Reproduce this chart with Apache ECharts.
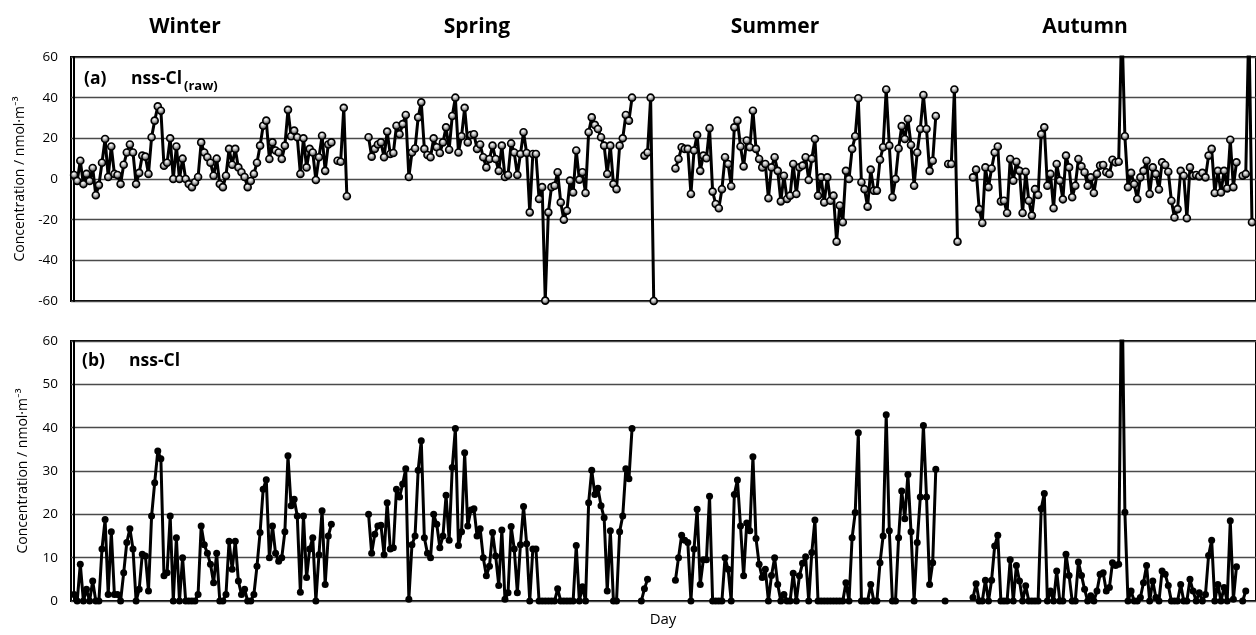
<!DOCTYPE html>
<html><head><meta charset="utf-8">
<script src="https://cdn.jsdelivr.net/npm/echarts@6/dist/echarts.min.js"></script>
<style>html,body{margin:0;padding:0;background:#fff}#c{width:1256px;height:635px}</style>
</head><body><div id="c"></div>
<script>
// ---- labels ----
const seasons = ['Winter', 'Spring', 'Summer', 'Autumn'];
const yName = 'Concentration / nmol\u00b7m\u207b\u00b3';
const xName = 'Day';

// ---- (a) nss-Cl(raw): segments (start day + values) ----
const rawWinterStart = 0;
const rawWinter = [2, -1, 9, -2.5, 2.5, -1, 5.4, -8, -3, 8,
  19.7, 1, 16, 2.5, 2, -2.5, 7, 13, 17, 13,
  -2.5, 3, 11.5, 11, 2.5, 20.5, 28.7, 35.7, 33.6, 6.5,
  8, 20, 0, 16, 0, 10, 0, -2.5, -4, -1.6,
  1, 18, 13, 10.7, 8, 1.6, 10, -2.5, -4, 1.6,
  14.8, 7, 14.8, 5.7, 3.3, 1, -4, -1, 2.5, 8,
  16.4, 26.2, 28.7, 9.8, 18, 14, 13, 9.8, 16.4, 34,
  21, 23.8, 20.5, 2.5, 20, 5.7, 14.8, 13, -0.5, 10.7,
  21.3, 4, 17, 18];
const rawWinterEndStart = 85;
const rawWinterEnd = [9, 8.5, 35, -8.5];
const rawSpringStart = 95;
const rawSpring = [20.5, 11, 14.8, 17, 18, 10.7, 23.3, 12.3, 12.8, 26.2,
  22, 27, 31.5, 1, 13, 15, 30.3, 37.7, 14.8, 11.8,
  10.7, 20, 15.6, 12.8, 18, 25.4, 14.4, 31, 40, 13,
  21, 35, 18, 21.6, 22, 14.8, 17, 10.7, 5.7, 9.8,
  16.4, 9.8, 4, 16.4, 1, 2, 17.5, 13, 2, 12.3,
  23, 12.8, -16.4, 12.3, 12.3, -9.8, -4, -59.8, -16.4, -4,
  -3.3, 3.3, -11.5, -20, -15.6, -0.8, -6.6, 14, -0.3, 3.3,
  -6.9, 23, 30.3, 26.6, 24.6, 20.5, 16.4, 2.5, 16.4, -2.5,
  -5, 16.4, 20, 31.5, 28.7, 40];
const rawSpringEndStart = 184;
const rawSpringEnd = [11.5, 13, 40, -60];
const rawSummerStart = 194;
const rawSummer = [5.2, 9.8, 15.6, 14.8, 14.8, -7.4, 14, 21.6, 4, 11.5,
  10.2, 25, -6.2, -12.3, -14.4, -5, 10.7, 7.4, -3.6, 25.4,
  28.7, 16, 6.2, 18.9, 15.6, 33.6, 14.8, 9.8, 5.7, 7.4,
  -9.5, 5.7, 10.7, 4, -11, 1.6, -9.8, -8.2, 7.4, -7.4,
  5.7, 6.6, 10.7, -0.5, 10, 19.7, -8.2, 0.8, -11.5, 0.8,
  -10.7, -8.2, -30.8, -13, -21.3, 4, 0, 14.8, 21, 39.7,
  -1.6, -5, -13.6, 4.6, -5.7, -5.7, 9.5, 15.6, 44, 16.4,
  -9, 0, 15, 26, 19.7, 29.5, 16.7, -3.3, 13, 24.6,
  41.3, 24.6, 4, 9, 31];
const rawSummerEndStart = 282;
const rawSummerEnd = [7.4, 7.4, 44, -30.8];
const rawAutumnStart = 290;
const rawAutumn = [0.8, 4.6, -14.8, -21.6, 5.7, -4, 5.2, 13, 16, -11,
  -10.7, -16.7, 9.8, -0.8, 8.5, 4, -16.7, 3.6, -10.7, -18,
  -5, -7.9, 22, 25.4, -3.3, 2.5, -14.4, 7.4,
  -0.8, -10, 11.5, 5.7, -9, -3.3, 9.8, 6.2, 3.3, -3.3,
  0.8, -6.9, 2.5, 6.6, 6.9, 3.3, 2.5, 9.5, 8.2, 8.5,
  78, 21, -4, 3, -2.5, -9.8, 0.8, 4, 9, -7.4,
  5.7, 2.5, -5.2, 8.2, 6.9, 3.6, -10.7, -18.9, -14.8, 4,
  1.6, -19.3, 5.7, 1.6, 2, 1.3, 3, 0.8, 11.5, 14.8,
  -6.9, 4, -6.6, 4, -4.6, 19.3, -4, 8.2];
const rawAutumnEndStart = 377;
const rawAutumnEnd = [1.6, 2.5, 78, -21.3];

// ---- (b) nss-Cl: segments ----
const nssWinterStart = 0;
const nssWinter = [1.5, 0, 8.5, 0, 2.7, 0, 4.6, 0, 0, 12,
  18.8, 1.5, 16, 1.5, 1.5, 0, 6.5, 13.5, 16.7, 12,
  0, 2.7, 10.8, 10.4, 2.3, 19.6, 27.3, 34.6, 32.8, 5.8,
  6.5, 19.6, 0, 14.6, 0, 10, 0, 0, 0, 0,
  1.5, 17.3, 13, 11, 8.5, 4.2, 11, 0, 0, 1.5,
  13.8, 7.3, 13.8, 4.6, 1.5, 2.7, 0, 0, 1.5, 8,
  15.8, 25.8, 28, 10, 17.3, 11, 9.2, 10, 16, 33.5,
  22, 23.5, 19.6, 2, 19.6, 5.4, 12, 14.6, 0, 10.7,
  20.8, 3.8, 15, 17.7];
const nssSpringStart = 95;
const nssSpring = [20, 11, 15.4, 17.3, 17.5, 10.7, 22.7, 12, 12.3, 25.8,
  24, 27, 30.5, 0.4, 13, 15, 30.2, 37, 14.6, 11,
  10, 20, 17.7, 12.3, 15, 24.4, 14, 30.8, 39.8, 12.8,
  16, 34.2, 17.3, 21, 21.3, 15, 16.7, 10, 5.8, 8,
  15.8, 10.4, 3.6, 16.4, 0.4, 1.9, 17.2, 12, 1.9, 13,
  21.8, 13.2, 0, 12, 12, 0, 0, 0, 0, 0,
  0, 2.8, 0, 0, 0, 0, 0, 12.8, 0, 3.3,
  0, 22.7, 30.2, 24.6, 26, 22, 19.2, 2.3, 16.2, 0,
  0, 16, 19.6, 30.5, 28.2, 39.8];
const nssSpringEndStart = 183;
const nssSpringEnd = [0, 2.8, 5];
const nssSummerStart = 194;
const nssSummer = [4.8, 10, 15.2, 14, 13.5, 0, 12, 21.2, 3.8, 9.5,
  9.5, 24.2, 0, 0, 0, 0, 10, 7.3, 0, 24.6,
  27.9, 17.3, 5.8, 18, 16.2, 33.3, 14.4, 8.5, 5.4, 7.3,
  0, 5.9, 10, 3.8, 0, 1.5, 0, 0, 6.4, 0,
  5.8, 8.7, 10.2, 0, 11.2, 18.7, 0, 0, 0, 0,
  0, 0, 0, 0, 0, 4.2, 0, 14.6, 20.4, 38.8,
  0, 0, 0, 3.8, 0, 0, 8.8, 15, 43, 16.2,
  0, 0, 14.6, 25.4, 19, 29.2, 16, 0, 13.5, 24,
  40.5, 24, 3.8, 8.8, 30.4];
const nssSummerEndStart = 281;
const nssSummerEnd = [0];
const nssAutumnStart = 290;
const nssAutumn = [0.8, 4, 0, 0, 4.8, 0, 4.8, 12.7, 15.2, 0,
  0, 0, 9.5, 0, 8.2, 4.6, 0, 3.5, 0, 0,
  0, 0, 21.3, 24.8, 0, 2.3, 0, 6.9,
  0, 0, 10.8, 5.9, 0, 0, 9, 5.9, 2.7, 0,
  1.2, 0, 2.3, 6.2, 6.5, 2.3, 3.1, 8.8, 8.2, 8.5,
  78, 20.5, 0, 2.3, 0, 0, 0.8, 4.2, 8.2, 0,
  4.6, 0.8, 0, 6.9, 6.2, 3.6, 0, 0, 0, 3.8,
  0, 0, 5, 2.3, 0, 1.9, 0, 1.5, 10.5, 14,
  0, 3.8, 0, 3.1, 0, 18.5, 0.4, 7.9];
const nssAutumnEndStart = 377;
const nssAutumnEnd = [0, 2.3];

const DAYS = 381;

function dense(segs) {
  const arr = new Array(DAYS).fill(null);
  segs.forEach(([s, vals]) => vals.forEach((v, i) => { arr[s + i] = v; }));
  return arr.map((v, i) => [i, v]);
}
const rawData = dense([[rawWinterStart, rawWinter], [rawWinterEndStart, rawWinterEnd],
  [rawSpringStart, rawSpring], [rawSpringEndStart, rawSpringEnd],
  [rawSummerStart, rawSummer], [rawSummerEndStart, rawSummerEnd],
  [rawAutumnStart, rawAutumn], [rawAutumnEndStart, rawAutumnEnd]]);
const nssData = dense([[nssWinterStart, nssWinter], [nssSpringStart, nssSpring],
  [nssSpringEndStart, nssSpringEnd], [nssSummerStart, nssSummer],
  [nssSummerEndStart, nssSummerEnd], [nssAutumnStart, nssAutumn],
  [nssAutumnEndStart, nssAutumnEnd]]);

const FONT = '"Open Sans", Lato, sans-serif';
const chart = echarts.init(document.getElementById('c'), null, { renderer: 'canvas' });

function yAxisCfg(grid, min, max, interval) {
  return {
    gridIndex: grid, type: 'value', min: min, max: max, interval: interval,
    axisLine: { show: true, lineStyle: { color: '#000', width: 2 } },
    axisTick: { show: false },
    axisLabel: { color: '#000', fontSize: 13.5, margin: 13, fontFamily: FONT },
    splitLine: { show: true, lineStyle: { color: '#4a4a4a', width: 1.3 } },
    name: yName, nameLocation: 'middle', nameRotate: 90, nameGap: 41,
    nameTextStyle: { color: '#000', fontSize: 14, fontFamily: FONT }
  };
}
function xAxisCfg(grid) {
  return {
    gridIndex: grid, type: 'value', min: -1, max: 381.3,
    axisLine: { show: false }, axisTick: { show: false },
    axisLabel: { show: false }, splitLine: { show: false }
  };
}

const seasonX = [185, 477, 775, 1085];
const graphics = seasons.map((s, i) => ({
  type: 'text', x: seasonX[i], y: 27,
  style: { text: s, font: 'bold 21px ' + FONT, fill: '#000', align: 'center', verticalAlign: 'middle' }
}));
graphics.push(
  { type: 'text', x: 84, y: 79, style: { text: '(a)', font: 'bold 17.5px ' + FONT, fill: '#000', verticalAlign: 'middle' } },
  { type: 'text', x: 131, y: 79, style: { text: 'nss-Cl', font: 'bold 17.5px ' + FONT, fill: '#000', verticalAlign: 'middle' } },
  { type: 'text', x: 184, y: 86, style: { text: '(raw)', font: 'bold 13px ' + FONT, fill: '#000', verticalAlign: 'middle' } },
  { type: 'text', x: 82, y: 361, style: { text: '(b)', font: 'bold 17.5px ' + FONT, fill: '#000', verticalAlign: 'middle' } },
  { type: 'text', x: 129, y: 361, style: { text: 'nss-Cl', font: 'bold 17.5px ' + FONT, fill: '#000', verticalAlign: 'middle' } },
  { type: 'text', x: 663, y: 620, style: { text: xName, font: '15px ' + FONT, fill: '#000', align: 'center', verticalAlign: 'middle' } }
);

const sphere = new echarts.graphic.RadialGradient(0.45, 0.35, 0.6, [
  { offset: 0, color: '#ffffff' }, { offset: 0.45, color: '#b0b0b0' }, { offset: 1, color: '#202020' }
]);

chart.setOption({
  animation: false,
  backgroundColor: '#fff',
  grid: [
    { left: 71, right: 0, top: 57, height: 244, show: true, borderColor: '#000', borderWidth: 2, backgroundColor: 'transparent' },
    { left: 71, right: 0, top: 341, height: 260, show: true, borderColor: '#000', borderWidth: 2, backgroundColor: 'transparent' }
  ],
  xAxis: [xAxisCfg(0), xAxisCfg(1)],
  yAxis: [yAxisCfg(0, -60, 60, 20), yAxisCfg(1, 0, 60, 10)],
  graphic: graphics,
  series: [
    {
      type: 'line', xAxisIndex: 0, yAxisIndex: 0, data: rawData, clip: true,
      connectNulls: false, symbol: 'circle', symbolSize: 7, showSymbol: true,
      lineStyle: { color: '#000', width: 3 },
      itemStyle: { color: sphere, borderColor: '#000', borderWidth: 1.6 },
      emphasis: { disabled: true }, z: 3
    },
    {
      type: 'line', xAxisIndex: 1, yAxisIndex: 1, data: nssData, clip: true,
      connectNulls: false, symbol: 'circle', symbolSize: 7, showSymbol: true,
      lineStyle: { color: '#000', width: 3 },
      itemStyle: { color: '#000', borderColor: '#000', borderWidth: 0 },
      emphasis: { disabled: true }, z: 3
    }
  ]
});
</script></body></html>
